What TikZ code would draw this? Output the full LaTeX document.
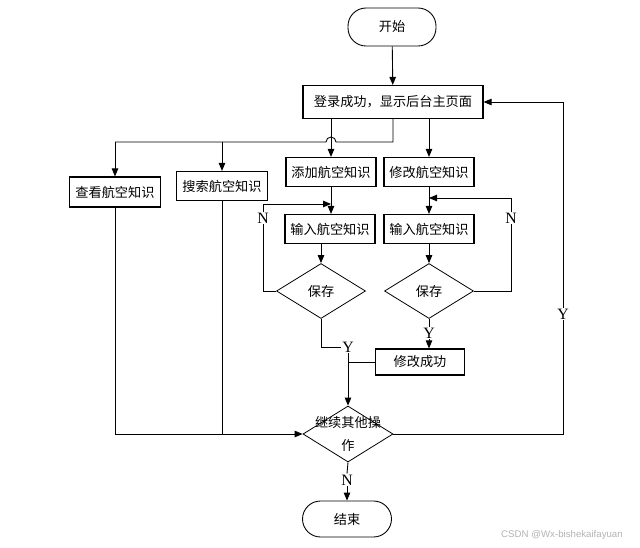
\documentclass[tikz,border=0pt]{standalone}
\usepackage{fontspec}
\setmainfont{Liberation Serif}
\newfontfamily\cjk{Noto Sans CJK SC}
\newfontfamily\wmark{Liberation Sans}
\usetikzlibrary{shapes.geometric,arrows.meta,positioning}
\tikzset{
  box/.style={draw, line width=0.65pt, minimum width=1.8cm, minimum height=0.58cm, inner sep=1pt,
    font=\cjk\fontsize{7.5}{9}\selectfont},
  term/.style={box, line width=0.5pt, rounded corners=0.36cm},
  choice/.style={draw, diamond, line width=0.45pt, minimum width=1.78cm, minimum height=1.1cm, inner sep=0pt,
    font=\cjk\fontsize{7.5}{9}\selectfont},
  lbl/.style={fill=white, inner sep=0.5pt, font=\fontsize{9}{10}\selectfont},
  line/.style={line width=0.5pt},
  arrow/.style={line, -{Triangle[length=1.6mm,width=1.3mm]}}
}

\begin{document}
\begin{tikzpicture}[x=0.02cm, y=-0.02cm]
  \useasboundingbox (0,0) rectangle (640,548);

  \node[term, minimum width=1.76cm, minimum height=0.76cm] (start) at (392,27) {开始};
  \node[box, minimum width=3.6cm, minimum height=0.66cm] (login) at (393,102) {登录成功，显示后台主页面};
  \node[box, minimum width=1.82cm, minimum height=0.6cm] (view) at (115,192) {查看航空知识};
  \node[box, minimum width=1.82cm] (search) at (222,186) {搜索航空知识};
  \node[box] (add) at (331,172) {添加航空知识};
  \node[box] (mod) at (429,172) {修改航空知识};
  \node[box] (in1) at (330,229) {输入航空知识};
  \node[box] (in2) at (429,229) {输入航空知识};
  \node[choice] (save1) at (321,291) {保存};
  \node[choice] (save2) at (429,291) {保存};
  \node[box, minimum width=1.78cm, minimum height=0.52cm] (done) at (420,362) {修改成功};
  \node[choice, minimum width=1.8cm, minimum height=1.12cm,
    label={[align=center, font=\cjk\fontsize{7.5}{13}\selectfont]center:继续其他操\\作}] (cont) at (348,434) {};
  \node[term, minimum width=1.78cm, minimum height=0.72cm] (finish) at (347,519) {结束};

  \coordinate (branch) at (393,142);
  \coordinate (loopL) at (263,204);
  \coordinate (loopR) at (511,198);
  \coordinate (back) at (563,102);

  \draw[arrow] (start) -- (login);
  \draw[arrow] (login.south -| add) -- (add.north);
  \draw[arrow] (login.south -| mod) -- (mod.north);
  \draw[line] (login.south) -- (branch) -- ([xshift=0.1cm]branch -| add)
    arc[start angle=0, end angle=180, radius=0.1cm] -- (branch -| view);
  \draw[arrow] (branch -| view) -- (view.north);
  \draw[arrow] (branch -| search) -- (search.north);

  \draw[arrow] (add) -- (in1.north -| add);
  \draw[arrow] (in1.south -| save1) -- (save1.north);
  \draw[arrow] (save1.west) -| (loopL) -- (loopL -| add);
  \node[lbl] (n1) at (263,218) {N};

  \draw[arrow] (mod) -- (in2);
  \draw[arrow] (in2) -- (save2);
  \draw[arrow] (save2.east) -| (loopR) -- (loopR -| in2);
  \node[lbl] (n2) at (511,218) {N};

  \node[lbl] (y1) at (348,347) {Y};
  \draw[line] (save1.south) |- (y1.west);
  \draw[arrow] (y1.south) -- (cont.north);

  \node[lbl] (y2) at (429,333) {Y};
  \draw[line] (save2.south) -- (y2.north);
  \draw[arrow] (y2.south) -- (y2.south |- done.north);
  \draw[line] (done.west) -- (done.west -| cont);

  \draw[line] (view.south) |- (search |- cont.west);
  \draw[arrow] (search.south) |- (cont.west);

  \draw[arrow] (cont.east) -| (back) -- (login.east);
  \node[lbl] (y3) at (563,314) {Y};

  \node[lbl] (n3) at (347,480) {N};
  \draw[line] (cont.south) -- (n3.north);
  \draw[arrow] (n3.south) -- (finish.north);

  \node[text=gray!60, font=\wmark\fontsize{5.5}{6}\selectfont] (mark) at (562,535) {CSDN @Wx-bishekaifayuan};
\end{tikzpicture}
\end{document}
